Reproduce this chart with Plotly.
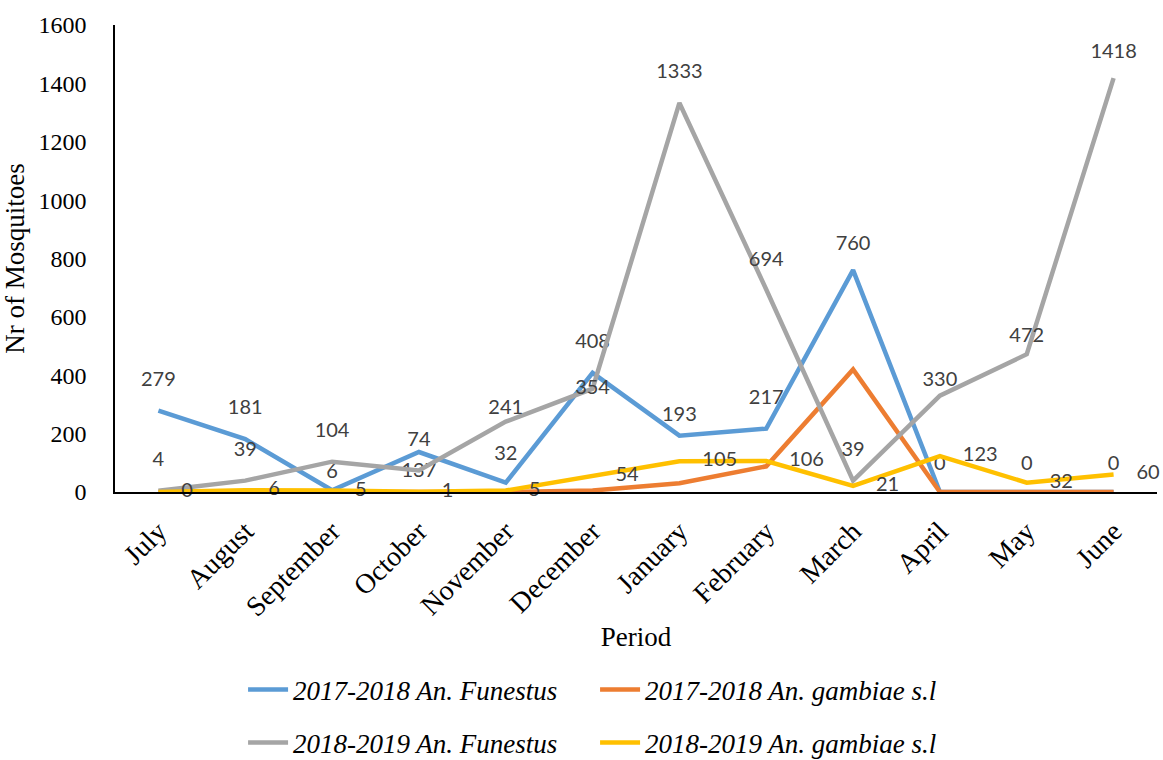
import plotly.graph_objects as go

months = ["July", "August", "September", "October", "November", "December",
          "January", "February", "March", "April", "May", "June"]

fun_1718 = [279, 181, 6, 137, 32, 408, 193, 217, 760, 0, 0, 0]
gam_1718 = [0, 0, 0, 0, 0, 5, 30, 88, 420, 0, 0, 0]
fun_1819 = [4, 39, 104, 74, 241, 354, 1333, 694, 39, 330, 472, 1418]
gam_1819 = [0, 6, 5, 1, 5, 54, 105, 106, 21, 123, 32, 60]

names = ["2017-2018 An. Funestus", "2017-2018 An. gambiae s.l",
         "2018-2019 An. Funestus", "2018-2019 An. gambiae s.l"]
colors = ["#5B9BD5", "#ED7D31", "#A5A5A5", "#FFC000"]

# label placement styles (per point)
blue_pos = ["top center"] * 12
blue_pos[3] = "bottom center"
blue_size = [30, 30, 10, 15, 26, 30, 14, 30, 22, 26, 26, 26]
gray_pos = ["top center"] * 12
gray_pos[5] = "middle center"
gray_size = [30, 30, 30, 30, 2, 0, 30, 28, 30, 6, 10, 22]

label_font = dict(family="Lato, 'Open Sans', sans-serif", size=20, color="#404040")
serif = "'Liberation Serif', 'Times New Roman', serif"
clear = "rgba(0,0,0,0)"


def hidden_marker(size):
    return dict(size=size, color=clear, line=dict(width=0, color=clear))


fig = go.Figure()
fig.add_trace(go.Scatter(
    x=months, y=fun_1718, name=names[0], mode="lines+markers+text",
    line=dict(color=colors[0], width=4.5),
    marker=hidden_marker(blue_size),
    text=[str(v) for v in fun_1718], textposition=blue_pos,
    textfont=label_font, cliponaxis=False, legend="legend"))
fig.add_trace(go.Scatter(
    x=months, y=gam_1718, name=names[1], mode="lines",
    line=dict(color=colors[1], width=4.5), cliponaxis=False, legend="legend"))
fig.add_trace(go.Scatter(
    x=months, y=fun_1819, name=names[2], mode="lines+markers+text",
    line=dict(color=colors[2], width=4.5),
    marker=hidden_marker(gray_size),
    text=[str(v) for v in fun_1819], textposition=gray_pos,
    textfont=label_font, cliponaxis=False, legend="legend2"))
fig.add_trace(go.Scatter(
    x=months, y=gam_1819, name=names[3], mode="lines+markers+text",
    line=dict(color=colors[3], width=4.5),
    marker=hidden_marker(35),
    text=[str(v) for v in gam_1819], textposition="middle right",
    textfont=label_font, cliponaxis=False, legend="legend2"))

legend_common = dict(orientation="h", xref="container", yref="container",
                     x=0.209, xanchor="left", yanchor="middle",
                     entrywidth=297, entrywidthmode="pixels",
                     font=dict(family=serif, size=27, color="#000000", style="italic"),
                     bgcolor="rgba(0,0,0,0)", itemwidth=40)

fig.update_layout(
    width=1163, height=760,
    margin=dict(l=115, r=6, t=25, b=268),
    paper_bgcolor="white", plot_bgcolor="white",
    showlegend=True,
    legend=dict(legend_common, y=1 - 690 / 760),
    legend2=dict(legend_common, y=1 - 743 / 760),
    xaxis=dict(
        type="category", range=[-0.5, 11.5], showgrid=False,
        showline=True, linecolor="#000000", linewidth=1.5,
        ticks="", tickangle=-45, ticklabelstandoff=10,
        tickfont=dict(family=serif, size=28, color="#000000"),
        title=dict(text="Period", font=dict(family=serif, size=27, color="#000000"), standoff=6),
    ),
    yaxis=dict(
        range=[0, 1600], dtick=200, showgrid=False, zeroline=False,
        showline=True, linecolor="#000000", linewidth=1.5,
        ticks="", ticklabelstandoff=22,
        tickfont=dict(family=serif, size=24, color="#000000"),
        title=dict(text="Nr of Mosquitoes", font=dict(family=serif, size=27, color="#000000"), standoff=6),
    ),
)

fig.write_html("out.html")
